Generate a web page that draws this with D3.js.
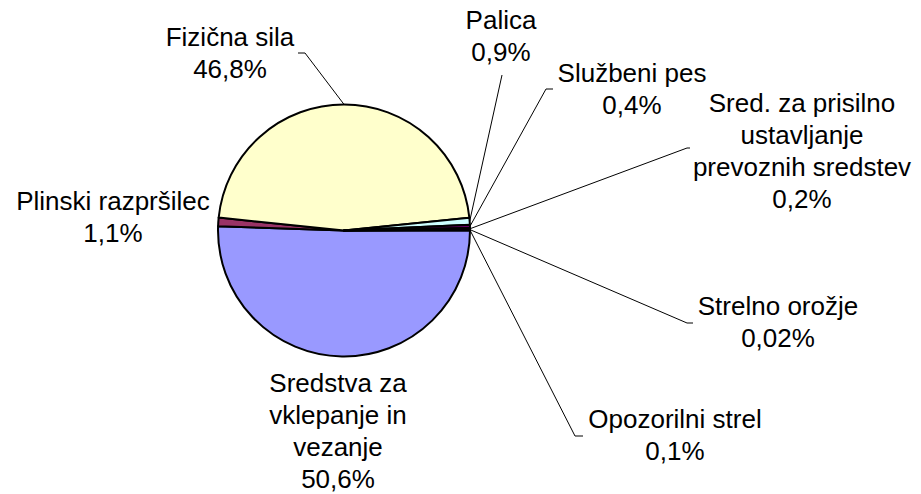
<!DOCTYPE html>
<html>
<head>
    <style>
        body {
            margin: 0;
            background: #ffffff;
        }

        .label {
            font-family: "Liberation Sans", Arial, Helvetica, sans-serif;
            font-size: 26px;
            fill: #000;
        }

        .leader {
            stroke: #000;
            stroke-width: 1;
            fill: none;
        }
    </style>
</head>
<body>
    <div id="chart"></div>
    <script src="https://cdnjs.cloudflare.com/ajax/libs/d3/7.8.5/d3.min.js"></script>
    <script>
        // Slices in drawing order (clockwise, starting at 3 o'clock)
        const categories = [
            "Sredstva za vklepanje in vezanje",
            "Plinski razpršilec",
            "Fizična sila",
            "Palica",
            "Službeni pes",
            "Sred. za prisilno ustavljanje prevoznih sredstev",
            "Strelno orožje",
            "Opozorilni strel"
        ];
        const shares = [50.6, 1.1, 46.8, 0.9, 0.4, 0.2, 0.02, 0.1];
        const shareLabels = ["50,6%", "1,1%", "46,8%", "0,9%", "0,4%", "0,2%", "0,02%", "0,1%"];
        const labelLines = [
            ["Sredstva za", "vklepanje in", "vezanje"],
            ["Plinski razpršilec"],
            ["Fizična sila"],
            ["Palica"],
            ["Službeni pes"],
            ["Sred. za prisilno", "ustavljanje", "prevoznih sredstev"],
            ["Strelno orožje"],
            ["Opozorilni strel"]
        ];
        const colors = ["#9999FF", "#993366", "#FFFFCC", "#CCFFFF", "#660066", "#FF8080", "#0066CC", "#CCCCFF"];

        // Label layout: text centre / first baseline, and leader elbow (null = no leader)
        const labelLayout = [
            { x: 338, y: 392, elbow: null },
            { x: 113, y: 210, elbow: null },
            { x: 230, y: 46, elbow: [[298, 53], [305, 53]] },
            { x: 501, y: 29, elbow: [[502, 75]] },
            { x: 632, y: 82, elbow: [[553, 89], [546, 89]] },
            { x: 802, y: 112, elbow: [[690, 148], [687, 148]] },
            { x: 778, y: 315, elbow: [[693, 323], [687, 323]] },
            { x: 675, y: 428, elbow: [[583, 436], [575, 436]] }
        ];

        const width = 921, height = 494;
        const cx = 344, cy = 230.5, radius = 126;
        const lineHeight = 32;

        const svg = d3.select("#chart")
            .append("svg")
            .attr("width", width)
            .attr("height", height);

        const data = categories.map((c, i) => ({
            name: c,
            value: shares[i],
            pct: shareLabels[i],
            lines: labelLines[i],
            color: colors[i],
            layout: labelLayout[i]
        }));

        const pie = d3.pie()
            .sort(null)
            .value(d => d.value)
            .startAngle(Math.PI / 2)
            .endAngle(Math.PI / 2 + 2 * Math.PI);

        const arcs = pie(data);

        const arc = d3.arc()
            .innerRadius(0)
            .outerRadius(radius);

        const g = svg.append("g")
            .attr("transform", `translate(${cx},${cy})`);

        g.selectAll("path.slice")
            .data(arcs)
            .enter()
            .append("path")
            .attr("class", "slice")
            .attr("d", arc)
            .attr("fill", d => d.data.color)
            .attr("stroke", "#000")
            .attr("stroke-width", 2)
            .attr("stroke-linejoin", "round");

        // Leader lines from the slice edge midpoint to the label
        const line = d3.line();
        arcs.forEach(d => {
            const elbow = d.data.layout.elbow;
            if (!elbow) return;
            const mid = (d.startAngle + d.endAngle) / 2;
            const edge = [cx + radius * Math.sin(mid), cy - radius * Math.cos(mid)];
            const pts = [edge].concat(elbow.slice().reverse());
            svg.append("path")
                .attr("class", "leader")
                .attr("d", line(pts));
        });

        // Labels
        arcs.forEach(d => {
            const lay = d.data.layout;
            const text = svg.append("text")
                .attr("class", "label")
                .attr("text-anchor", "middle")
                .attr("x", lay.x)
                .attr("y", lay.y);
            d.data.lines.concat([d.data.pct]).forEach((t, i) => {
                text.append("tspan")
                    .attr("x", lay.x)
                    .attr("dy", i === 0 ? 0 : lineHeight)
                    .text(t);
            });
        });
    </script>
</body>
</html>
